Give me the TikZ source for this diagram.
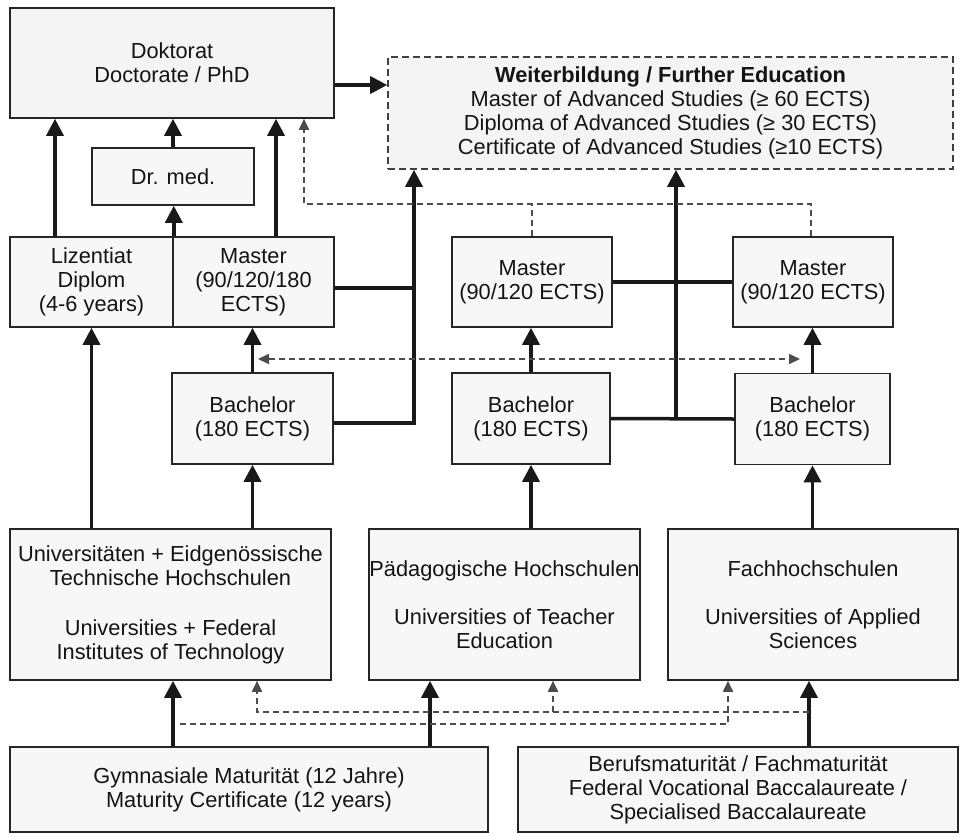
\documentclass[tikz,border=0pt]{standalone}
\usepackage{fontspec}
\setmainfont{Liberation Sans}
\usetikzlibrary{arrows.meta}
\begin{document}
\begin{tikzpicture}[x=1pt,y=-1pt,
  box/.style={draw=black!85, line width=1.6pt, fill=gray!6, inner sep=0pt, align=center,
    font=\fontsize{21.8}{24}\selectfont, text=black!92},
  conn/.style={line width=3.5pt, draw=black!90},
  arr/.style={conn, -{Triangle[length=17pt,width=17pt]}},
  dsh/.style={draw=black!70, line width=1.8pt, dash pattern=on 6pt off 4pt},
  darr/.style={dsh, -{Triangle[length=11pt,width=10pt]}},
  dboth/.style={dsh, {Triangle[length=11pt,width=10pt]}-{Triangle[length=11pt,width=10pt]}},
]
\fill[white] (0,0) rectangle (963,836);
\useasboundingbox (0,0) rectangle (963,836);

% nodes
\node[box, fill=gray!9, minimum width=324pt, minimum height=110pt] (dok) at (172,63) {Doktorat\\Doctorate / PhD};
\node[box, fill=gray!9, draw=black!75, dash pattern=on 7pt off 4pt, minimum width=565pt, minimum height=112pt] (wb) at (670.5,113)
  {\textbf{Weiterbildung / Further Education}\\Master of Advanced Studies (≥ 60 ECTS)\\Diploma of Advanced Studies (≥ 30 ECTS)\\Certificate of Advanced Studies (≥10 ECTS)};
\node[box, minimum width=162pt, minimum height=57pt] (drmed) at (173,176.5) {Dr. med.};
\node[box, minimum width=163pt, minimum height=90pt] (liz) at (91.5,282) {Lizentiat\\Diplom\\(4-6 years)};
\node[box, minimum width=161pt, minimum height=90pt] (mA) at (253.5,282) {Master\\(90/120/180\\ECTS)};
\node[box, minimum width=160pt, minimum height=90pt] (mB) at (532,282) {Master\\(90/120 ECTS)};
\node[box, minimum width=160pt, minimum height=90pt] (mC) at (813,282) {Master\\(90/120 ECTS)};
\node[box, minimum width=161pt, minimum height=91pt] (bA) at (252.5,418.5) {Bachelor\\(180 ECTS)};
\node[box, minimum width=158pt, minimum height=91pt] (bB) at (531,418.5) {Bachelor\\(180 ECTS)};
\node[box, minimum width=155pt, minimum height=91pt] (bC) at (812.5,419) {Bachelor\\(180 ECTS)};
\node[box, minimum width=321pt, minimum height=151pt] (uni) at (170.5,604.5)
  {Universitäten + Eidgenössische\\Technische Hochschulen\\[26pt]Universities + Federal\\Institutes of Technology};
\node[box, minimum width=271pt, minimum height=151pt] (ph) at (504.5,604.5)
  {Pädagogische Hochschulen\\[24pt]Universities of Teacher\\Education};
\node[box, minimum width=290pt, minimum height=151pt] (fh) at (813,604.5)
  {Fachhochschulen\\[24pt]Universities of Applied\\Sciences};
\node[box, minimum width=478pt, minimum height=85pt] (gym) at (249,789.5)
  {Gymnasiale Maturität (12 Jahre)\\Maturity Certificate (12 years)};
\node[box, minimum width=440pt, minimum height=85pt] (bm) at (738,789.5)
  {Berufsmaturität / Fachmaturität\\Federal Vocational Baccalaureate /\\Specialised Baccalaureate};

% solid connectors
\draw[arr] (55,0 |- liz.north) -- (55,0 |- dok.south);
\draw[arr] (drmed.north) -- (drmed.north |- dok.south);
\draw[arr] (276,0 |- mA.north) -- (276,0 |- dok.south);
\draw[arr] (liz.north east) -- (liz.north east |- drmed.south);
\draw[arr] (dok.east |- 0,85) -- (wb.west |- 0,85);
\draw[conn] (mA.east |- 0,288) -- (414,288);
\draw[arr] (bA.east |- 0,423) -| (414,0 |- wb.south);
\draw[conn] (mB.east) -- (mC.west);
\draw[conn] (bB.east) -- (bC.west);
\draw[arr] (676,0 |- bB.east) -- (676,0 |- wb.south);
\draw[arr] (bA.north) -- (bA.north |- mA.south);
\draw[arr] (bB.north) -- (bB.north |- mB.south);
\draw[arr] (bC.north) -- (bC.north |- mC.south);
\draw[arr] (liz.south |- uni.north) -- (liz.south);
\draw[arr] (bA.south |- uni.north) -- (bA.south);
\draw[arr] (bB.south |- ph.north) -- (bB.south);
\draw[arr] (bC.south |- fh.north) -- (bC.south);
\draw[arr] (173,0 |- gym.north) -- (173,0 |- uni.south);
\draw[arr] (430,0 |- gym.north) -- (430,0 |- ph.south);
\draw[arr] (809,0 |- bm.north) -- (809,0 |- fh.south);

% dashed connectors
\draw[darr] (811,0 |- mC.north) |- (304,204) -- (304,0 |- dok.south);
\draw[dsh] (mB.north) -- (mB.north |- 0,204);
\coordinate (dl) at (258,359);
\coordinate (dr) at (800,359);
\draw[dboth] (dl) -- (dr);
\draw[darr] (809,712) -| (257,0 |- uni.south);
\draw[darr] (553,712) -- (553,0 |- ph.south);
\draw[darr] (180,724) -| (728,0 |- fh.south);
\end{tikzpicture}
\end{document}
